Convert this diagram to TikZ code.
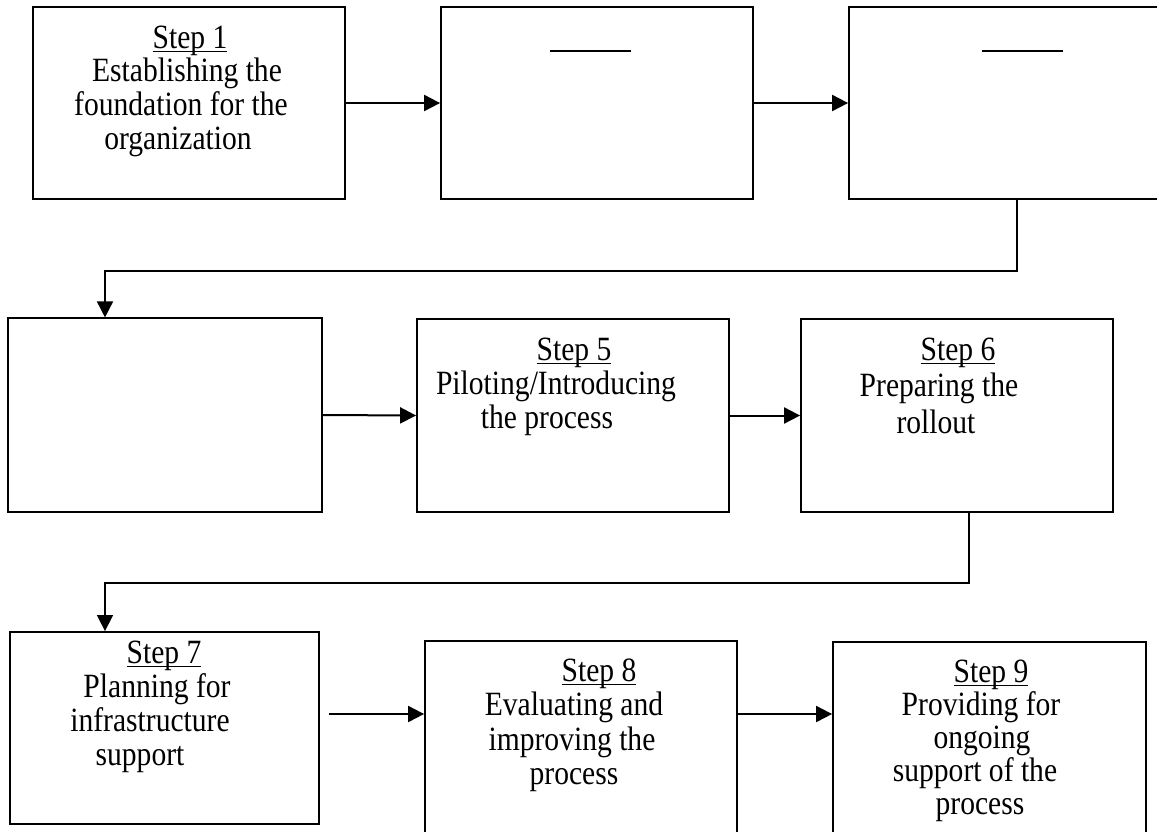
\documentclass[tikz,border=0pt]{standalone}
\usepackage{fontspec}
\setmainfont{Liberation Serif}[FakeStretch=0.87]
\usetikzlibrary{arrows.meta}
\newcommand\stepul[1]{\setbox0\hbox{#1}\rlap{\rule[-4.2pt]{\wd0}{1.7pt}}\box0}
\newcommand\steptext[2]{\fontsize{34}{#1}\selectfont\setlength\tabcolsep{0pt}\begin{tabular}[t]{c}#2\end{tabular}}
\tikzset{
  box/.style={draw, line width=1.8pt, inner sep=0pt, rectangle},
  thinbox/.style={draw, line width=1.1pt, inner sep=0pt, rectangle},
  label/.style={anchor=base, inner sep=0pt},
  arr/.style={line width=2pt, -{Triangle[length=16pt,width=16pt]}},
  link/.style={line width=1.5pt, -{Triangle[length=16pt,width=16pt]}},
  blank/.style={line width=1.8pt}
}
\begin{document}
\begin{tikzpicture}[x=1pt,y=-1pt]
\useasboundingbox (0,0) rectangle (1157,831);
\clip (0,0) rectangle (1157,831);
\fill[white] (0,0) rectangle (1157,831);
% boxes
\node[box, minimum width=312pt, minimum height=192pt] (b1) at (189,103) {};
\node[box, minimum width=312pt, minimum height=192pt] (b2) at (597,103) {};
\node[box, minimum width=312pt, minimum height=192pt] (b3) at (1005,103) {};
\node[thinbox, minimum width=314pt, minimum height=194pt] (b4) at (165,415) {};
\node[box, minimum width=312pt, minimum height=193pt] (b5) at (573,415.5) {};
\node[box, minimum width=312pt, minimum height=193pt] (b6) at (957,415.5) {};
\node[box, minimum width=309pt, minimum height=192pt] (b7) at (164.5,728) {};
\node[box, minimum width=312pt, minimum height=196pt] (b8) at (581,739) {};
\node[box, minimum width=313pt, minimum height=196pt] (b9) at (989.5,740) {};
% texts
\node[label] (t1) at (190,48) {\steptext{33.5}{\stepul{Step 1}\\Establishing the\hspace*{6pt}\\foundation for the\hspace*{18pt}\\organization\hspace*{24pt}}};
\node[label] (t5) at (574,360) {\steptext{34}{\stepul{Step 5}\\Piloting/Introducing\hspace*{36pt}\\the process\hspace*{54pt}}};
\node[label] (t6) at (958,360) {\steptext{36.5}{\stepul{Step 6}\\Preparing the\hspace*{38pt}\\rollout\hspace*{44pt}}};
\node[label] (t7) at (164,663) {\steptext{34}{\stepul{Step 7}\\Planning for\hspace*{14pt}\\infrastructure\hspace*{28pt}\\support\hspace*{48pt}}};
\node[label] (t8) at (599,681) {\steptext{34.5}{\stepul{Step 8}\\Evaluating and\hspace*{50pt}\\improving the\hspace*{54pt}\\process\hspace*{50pt}}};
\node[label] (t9) at (991,682) {\steptext{32.5}{\stepul{Step 9}\\Providing for\hspace*{20pt}\\ongoing\hspace*{18pt}\\support of the\hspace*{32pt}\\process\hspace*{22pt}}};
% empty underlines
\draw[blank] (550,51) -- (631,51);
\draw[blank] (982,51) -- (1063,51);
% connectors
\draw[arr] (b1.east) -- (b2.west);
\draw[arr] (b2.east) -- (b3.west);
\coordinate (k1) at (1017,271);
\coordinate (k2) at (105,271);
\draw[link] (k1 |- b3.south) -- (k1) -- (k2) -- (k2 |- b4.north);
\draw[arr] (b4.east) -- (b5.west);
\draw[arr] (b5.east) -- (b6.west);
\coordinate (k3) at (969,583);
\coordinate (k4) at (105,583);
\draw[link] (k3 |- b6.south) -- (k3) -- (k4) -- (k4 |- b7.north);
\coordinate (a7) at (329,714);
\draw[arr] (a7) -- (b8.west |- a7);
\draw[arr] (b8.east |- a7) -- (b9.west |- a7);
\end{tikzpicture}
\end{document}
